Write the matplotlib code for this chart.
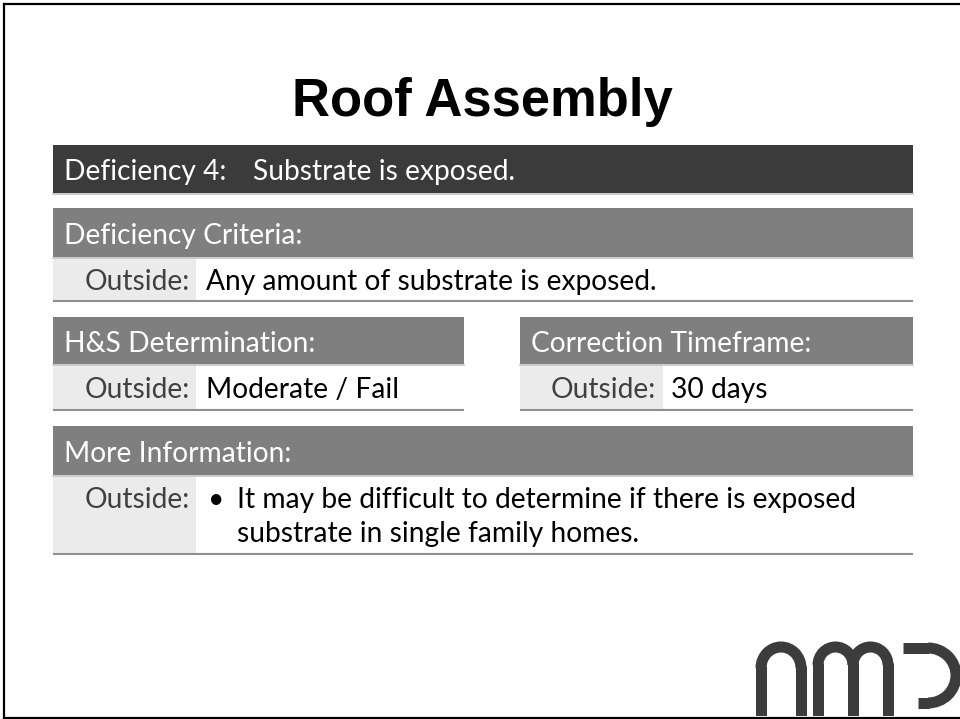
import matplotlib
matplotlib.use("Agg")
import matplotlib.pyplot as plt
from matplotlib.patches import Rectangle, Arc

# ---- content ----
title = "Roof Assembly"
deficiency_label = "Deficiency 4:"
deficiency_text = "Substrate is exposed."
section_headers = ["Deficiency Criteria:", "H&S Determination:",
                   "Correction Timeframe:", "More Information:"]
row_label = "Outside:"
criteria_text = "Any amount of substrate is exposed."
hs_text = "Moderate / Fail"
timeframe_text = "30 days"
info_lines = ["It may be difficult to determine if there is exposed",
              "substrate in single family homes."]

DARK = "#3b3b3b"
GREY = "#7f7f7f"
LIGHT = "#ebebeb"
LINE = "#8f8f8f"
LABEL = "#404040"
BODY_FONT = ["Lato", "DejaVu Sans"]
TITLE_FONT = ["Liberation Sans", "DejaVu Sans"]

W, H = 960, 719
fig = plt.figure(figsize=(W / 100, H / 100), dpi=100)
ax = fig.add_axes([0, 0, 1, 1])
ax.set_xlim(0, W)
ax.set_ylim(H, 0)
ax.axis("off")
fig.canvas.draw()
renderer = fig.canvas.get_renderer()


def measure(text, family, weight="normal", base=20):
    t = ax.text(0, 0, text, fontsize=base, family=family, weight=weight)
    w = t.get_window_extent(renderer).width
    t.remove()
    return w


body_fs = 0.98 * 20 * 243 / measure(section_headers[0], BODY_FONT)
title_fs = 36 * 381 / measure(title, TITLE_FONT, weight="bold", base=36)

# ---- title ----
ax.text(482, 116, title, fontsize=title_fs, family=TITLE_FONT, weight="bold",
        ha="center", va="baseline", color="black")


def bar(x0, x1, y0, y1, color):
    ax.add_patch(Rectangle((x0, y0), x1 - x0, y1 - y0, facecolor=color,
                           edgecolor="none"))
    ax.plot([x0, x1], [y1 + 0.8, y1 + 0.8], color="#c4c4c4", lw=1.2)


def row(x0, xs, x1, y0, y1):
    ax.add_patch(Rectangle((x0, y0), xs - x0, y1 - y0, facecolor=LIGHT,
                           edgecolor="none"))
    ax.plot([x0, x1], [y1, y1], color=LINE, lw=1.5, solid_capstyle="butt")


def htext(x, y, s, color="white", ha="left"):
    ax.text(x, y, s, fontsize=body_fs, family=BODY_FONT, color=color,
            ha=ha, va="baseline")


L, R = 53, 913
# deficiency bar
bar(L, R, 145, 193, DARK)
htext(64, 180, deficiency_label)
htext(253, 180, deficiency_text)

# criteria
bar(L, R, 208, 257, GREY)
htext(64, 244, section_headers[0])
row(L, 196, R, 257, 301)
htext(190, 290, row_label, color=LABEL, ha="right")
htext(206, 290, criteria_text, color="black")

# H&S
bar(L, 464, 317, 364, GREY)
htext(64, 352, section_headers[1])
row(L, 196, 464, 364, 410)
htext(190, 398, row_label, color=LABEL, ha="right")
htext(206, 398, hs_text, color="black")

# correction timeframe
bar(520, R, 317, 364, GREY)
htext(531, 352, section_headers[2])
row(520, 663, R, 364, 410)
htext(656, 398, row_label, color=LABEL, ha="right")
htext(671, 398, timeframe_text, color="black")

# more information
bar(L, R, 426, 475, GREY)
htext(64, 462, section_headers[3])
row(L, 196, R, 475, 554)
htext(190, 508, row_label, color=LABEL, ha="right")
htext(208, 508, "\u2022", color="black")
htext(237, 508, info_lines[0], color="black")
htext(237, 542, info_lines[1], color="black")

# ---- logo (clipped by frame) ----
clip = Rectangle((0, 0), W, 716, transform=ax.transData)
LOGO = "#3c3c3c"
lw = 11 * 72 / 100
arts = []
# n
arts.append(ax.add_patch(Arc((781, 668), 40, 42, theta1=180, theta2=360,
                             color=LOGO, lw=lw)))
arts += ax.plot([761, 761], [666, 740], color=LOGO, lw=lw, solid_capstyle="butt")
arts += ax.plot([801, 801], [666, 740], color=LOGO, lw=lw, solid_capstyle="butt")
# m
for cx in (835.5, 870.5):
    arts.append(ax.add_patch(Arc((cx, 665), 35, 36, theta1=180, theta2=360,
                                 color=LOGO, lw=lw)))
for xs in (818, 853, 888):
    arts += ax.plot([xs, xs], [663, 740], color=LOGO, lw=lw, solid_capstyle="butt")
# third letter
arts += ax.plot([903, 929], [648, 648], color=LOGO, lw=lw, solid_capstyle="butt")
arts += ax.plot([918, 929], [703, 703], color=LOGO, lw=lw, solid_capstyle="butt")
arts.append(ax.add_patch(Arc((928, 675.5), 56, 55, theta1=-90, theta2=90,
                             color=LOGO, lw=lw)))
for a in arts:
    a.set_clip_path(clip)

# ---- slide frame ----
ax.plot([4, 4], [4, 717.5], color="black", lw=2.2 * 0.72, solid_capstyle="projecting")
ax.plot([4, W], [4, 4], color="black", lw=2.2 * 0.72, solid_capstyle="projecting")
ax.plot([4, W], [717.5, 717.5], color="black", lw=2.2 * 0.72, solid_capstyle="projecting")

fig.savefig("out.png", dpi=100)
